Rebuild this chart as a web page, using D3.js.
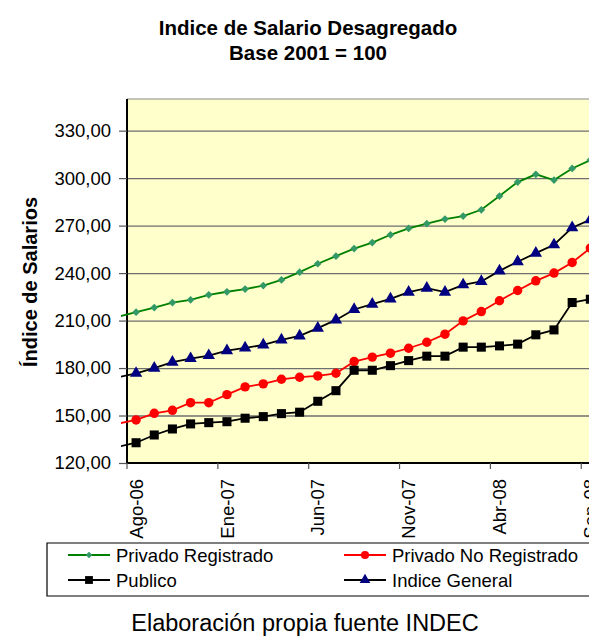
<!DOCTYPE html>
<html>
<head>
<meta charset="utf-8">
<script src="https://cdn.jsdelivr.net/npm/d3@7"></script>
<style>
  body { margin: 0; background: #fff; }
  svg { display: block; font-family: "Liberation Sans", Arial, sans-serif; }
  .grid line { stroke: #6e6e6e; stroke-width: 1.3; }
  .chartLine { fill: none; stroke-width: 1.8; }
  .tick text { fill: #000; }
</style>
</head>
<body>
<svg id="chart" width="589" height="637"></svg>
<script>
// months, first one only feeds the line that enters from the left edge
var months = ["Jul-06","Ago-06","Sep-06","Oct-06","Nov-06","Dic-06","Ene-07","Feb-07","Mar-07","Abr-07",
    "May-07","Jun-07","Jul-07","Ago-07","Sep-07","Oct-07","Nov-07","Dic-07","Ene-08","Feb-08",
    "Mar-08","Abr-08","May-08","Jun-08","Jul-08","Ago-08","Sep-08"]
var tickMonths = ["Ago-06","Ene-07","Jun-07","Nov-07","Abr-08","Sep-08"]
var yTicks = [120,150,180,210,240,270,300,330]

var privadoRegistrado = [212.4,215.3,218.2,221.4,223.1,226.3,228.2,229.9,232.1,235.7,240.6,245.9,250.7,255.5,
    259.3,264.2,268.2,271.2,274.1,276,280,288.7,297.5,302.4,298.8,306.1,311.4]
var privadoNoRegistrado = [144.9,147.2,151.4,153.3,158.1,158.1,163.2,168.1,170,172.9,174.2,175,176.7,184.1,
    186.9,189.4,192.5,196.3,201.4,209.8,215.7,222.5,229,235.1,240,246.7,255.8]
var publico = [130.2,132.8,137.7,141.5,144.7,145.5,146.1,148.3,149.3,151.2,152.1,159,165.7,178.6,
    178.6,181.5,184.7,187.5,187.5,193.2,193.2,194,195.1,201,204.1,221.4,223.5]
var indiceGeneral = [174.1,176.7,179.9,183.7,186,187.9,191,192.7,194.6,197.8,200.3,205.2,210.4,217,
    220.4,223.7,228,230.5,228,232.6,234.7,241.4,247.2,252.6,257.9,268.7,273.7]

var seriesNames = ["Privado Registrado","Privado No Registrado","Publico","Indice General"]

var series = [
    {name: seriesNames[0], values: privadoRegistrado, line: "#008000", fill: "#339966", shape: "diamond"},
    {name: seriesNames[1], values: privadoNoRegistrado, line: "#ff0000", fill: "#ff0000", shape: "circle"},
    {name: seriesNames[2], values: publico, line: "#000000", fill: "#000000", shape: "square"},
    {name: seriesNames[3], values: indiceGeneral, line: "#000000", fill: "#000080", shape: "triangle"}
]

var margin = {top: 99, left: 127}
var step = 18.17
var width = 26 * step
var height = 364

var xScale = d3.scaleBand()
    .domain(months)
    .range([-step, width])
    .paddingInner(0)
    .paddingOuter(0)

var yScale = d3.scaleLinear()
    .domain([120, 350])
    .range([height, 0])

function xPos(i){ return xScale(months[i]) + xScale.bandwidth()/2 }

function symbolPath(shape, big){
    var k = big ? 1 : 0.75
    switch(shape){
        case "diamond": return d3.symbol().type(d3.symbolSquare).size(30*k)()
        case "circle": return d3.symbol().type(d3.symbolCircle).size(70*k)()
        case "square": return d3.symbol().type(d3.symbolSquare).size(82*k)()
        case "triangle": return d3.symbol().type(d3.symbolTriangle).size(66*k)()
    }
}

var svg = d3.select("#chart")

svg.append("defs").append("clipPath")
    .attr("id", "plotClip")
    .append("rect")
    .attr("x", -6)
    .attr("y", 0)
    .attr("width", width + 20)
    .attr("height", height)

// titles
svg.append("text")
    .attr("x", 308).attr("y", 35)
    .attr("text-anchor", "middle")
    .style("font-weight", "bold").style("font-size", "20.5px")
    .text("Indice de Salario Desagregado")
svg.append("text")
    .attr("x", 308).attr("y", 60)
    .attr("text-anchor", "middle")
    .style("font-weight", "bold").style("font-size", "20.5px")
    .text("Base 2001 = 100")

var g = svg.append("g")
    .attr("transform", "translate(" + margin.left + "," + margin.top + ")")

g.append("rect")
    .attr("x", 0).attr("y", 0)
    .attr("width", width).attr("height", height)
    .attr("fill", "#ffffcc")

g.append("line")
    .attr("x1", 0).attr("x2", width)
    .attr("y1", 0).attr("y2", 0)
    .attr("stroke", "#8a8a8a").attr("stroke-width", 1.2)

g.append("g")
    .attr("class", "grid")
    .call(d3.axisLeft(yScale)
        .tickValues(yTicks.slice(1))
        .tickSize(-width)
        .tickFormat(""))
    .select(".domain").remove()

// y axis
var yAxis = g.append("g")
    .attr("class", "y axis")
    .call(d3.axisLeft(yScale)
        .tickValues(yTicks)
        .tickSize(8)
        .tickPadding(8)
        .tickFormat(function(d){ return d3.format(".2f")(d).replace(".", ",") }))
yAxis.select(".domain").attr("stroke", "#000").attr("stroke-width", 2)
    .attr("d", "M0," + height + "V0")
yAxis.selectAll(".tick line").attr("stroke", "#555").attr("stroke-width", 1.2)
yAxis.selectAll(".tick text").style("font-size", "18.5px")

// x axis - ticks sit on the category edges, labels at the centres
var xAxis = g.append("g")
    .attr("class", "x axis")
    .attr("transform", "translate(0," + height + ")")
    .call(d3.axisBottom(xScale)
        .tickValues(tickMonths)
        .tickSize(6)
        .tickPadding(0))
xAxis.select(".domain").attr("stroke", "#000").attr("stroke-width", 2)
    .attr("d", "M0,0H" + width)
xAxis.selectAll(".tick line")
    .attr("x1", -step/2).attr("x2", -step/2)
    .attr("stroke", "#555").attr("stroke-width", 1.2)
xAxis.selectAll(".tick text")
    .style("font-size", "18.5px")
    .attr("text-anchor", "end")
    .attr("transform", "rotate(-90)")
    .attr("x", -16)
    .attr("y", 0)
    .attr("dy", "0.36em")

// y axis title
svg.append("text")
    .attr("transform", "translate(37,282) rotate(-90)")
    .attr("text-anchor", "middle")
    .style("font-weight", "bold").style("font-size", "20px")
    .text("Índice de Salarios")

var line = d3.line()
    .x(function(d, i){ return xPos(i) })
    .y(function(d){ return yScale(d) })

var plot = g.append("g").attr("clip-path", "url(#plotClip)")

series.forEach(function(s){
    plot.append("path")
        .datum(s.values)
        .attr("class", "chartLine")
        .attr("stroke", s.line)
        .attr("d", line)
})

series.forEach(function(s){
    plot.selectAll(".dot-" + s.shape)
        .data(s.values.slice(1))
        .enter().append("path")
        .attr("class", "dot-" + s.shape)
        .attr("d", symbolPath(s.shape, true))
        .attr("fill", s.fill)
        .attr("transform", function(d, i){
            var t = "translate(" + xPos(i + 1) + "," + yScale(d) + ")"
            return s.shape == "diamond" ? t + " rotate(45)" : t
        })
})

// legend
var legend = svg.append("g")
svg.append("path")
    .attr("d", "M600,543H47V596H600")
    .attr("fill", "none").attr("stroke", "#000").attr("stroke-width", 1.2)

var legendPos = [[68, 555], [344, 555], [68, 580], [344, 580]]
series.forEach(function(s, i){
    var item = legend.append("g")
        .attr("transform", "translate(" + legendPos[i][0] + "," + legendPos[i][1] + ")")
    item.append("line")
        .attr("x1", 0).attr("x2", 42)
        .attr("stroke", s.line).attr("stroke-width", 1.8)
    item.append("path")
        .attr("d", symbolPath(s.shape, false))
        .attr("fill", s.fill)
        .attr("transform", "translate(21,0)" + (s.shape == "diamond" ? " rotate(45)" : ""))
    item.append("text")
        .attr("x", 48).attr("dy", "0.36em")
        .style("font-size", "18.5px")
        .text(s.name)
})

svg.append("text")
    .attr("x", 305).attr("y", 631)
    .attr("text-anchor", "middle")
    .style("font-size", "23.5px")
    .text("Elaboración propia fuente INDEC")
</script>
</body>
</html>
